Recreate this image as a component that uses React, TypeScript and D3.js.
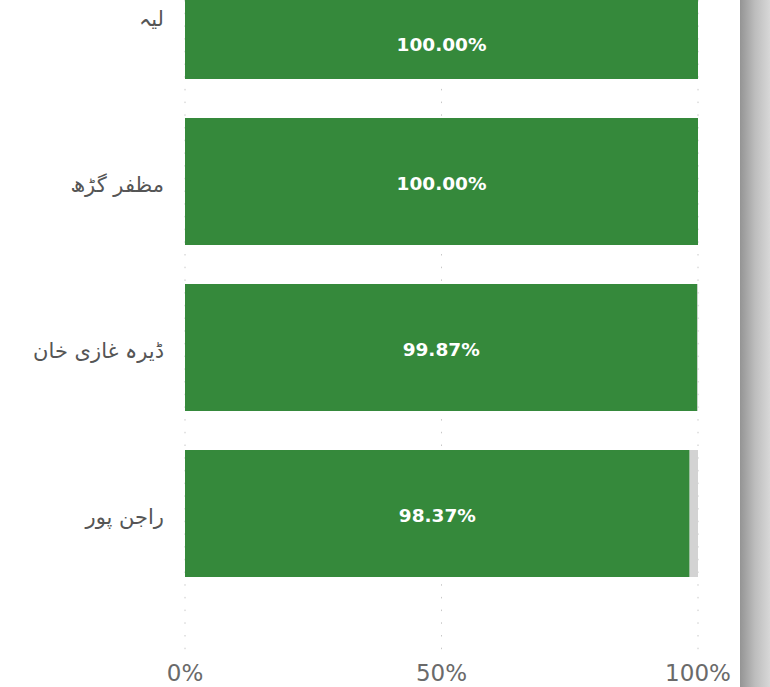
import React from "react";
import * as d3 from "d3";

const categories = ["لیہ", "مظفر گڑھ", "ڈیرہ غازی خان", "راجن پور"];
const values = [100.0, 100.0, 99.87, 98.37];
const tickValues = [0, 50, 100];
const tickLabels = ["0%", "50%", "100%"];

const W = 770;
const H = 687;

export default function App() {
  const x = d3.scaleLinear().domain([0, 100]).range([185, 698]);
  const y = d3
    .scaleBand<string>()
    .domain(categories)
    .range([-67.5, -67.5 + 664])
    .paddingInner(0.235)
    .paddingOuter(0.1175);
  const bw = y.bandwidth();
  const gridBottom = 652;

  return (
    <svg
      width={W}
      height={H}
      style={{ position: "absolute", left: 0, top: 0, background: "#fff" }}
    >
      <defs>
        <linearGradient id="sb" x1="0" x2="1" y1="0" y2="0">
          <stop offset="0" stopColor="#949494" />
          <stop offset="0.5" stopColor="#bdbdbd" />
          <stop offset="1" stopColor="#d8d8d8" />
        </linearGradient>
      </defs>
      {tickValues.map((t) => (
        <line
          key={"g" + t}
          x1={x(t)}
          x2={x(t)}
          y1={0}
          y2={gridBottom}
          stroke="#c8c8c8"
          strokeWidth={1}
          strokeDasharray="1.5 11.2"
        />
      ))}
      {categories.map((c, i) => {
        const top = y(c) as number;
        const v = values[i];
        const visTop = Math.max(top, 0);
        const cy = (visTop + top + bw) / 2;
        return (
          <g key={c}>
            <rect x={x(0)} y={top} width={x(v) - x(0)} height={bw} fill="#35893b" />
            {v < 100 && (
              <rect x={x(v)} y={top} width={x(100) - x(v)} height={bw} fill="#d3d3d3" />
            )}
            <text
              x={(x(0) + x(v)) / 2}
              y={cy + (top < 0 ? 5 : 1.5)}
              fill="#ffffff"
              fontFamily="'DejaVu Sans', sans-serif"
              fontWeight="bold"
              fontSize={18.5}
              textAnchor="middle"
              dominantBaseline="central"
            >
              {v.toFixed(2) + "%"}
            </text>
            <text
              x={164}
              y={top + bw / 2 + 3}
              fill="#555"
              fontFamily="'DejaVu Sans', sans-serif"
              fontSize={21}
              textAnchor="end"
              dominantBaseline="central"
            >
              {c}
            </text>
          </g>
        );
      })}
      {tickValues.map((t, i) => (
        <text
          key={"t" + t}
          x={x(t)}
          y={673}
          fill="#6a6a6a"
          fontFamily="'DejaVu Sans', sans-serif"
          fontSize={23}
          textAnchor="middle"
          dominantBaseline="central"
        >
          {tickLabels[i]}
        </text>
      ))}
      <rect x={740} y={0} width={30} height={H} fill="url(#sb)" />
    </svg>
  );
}
